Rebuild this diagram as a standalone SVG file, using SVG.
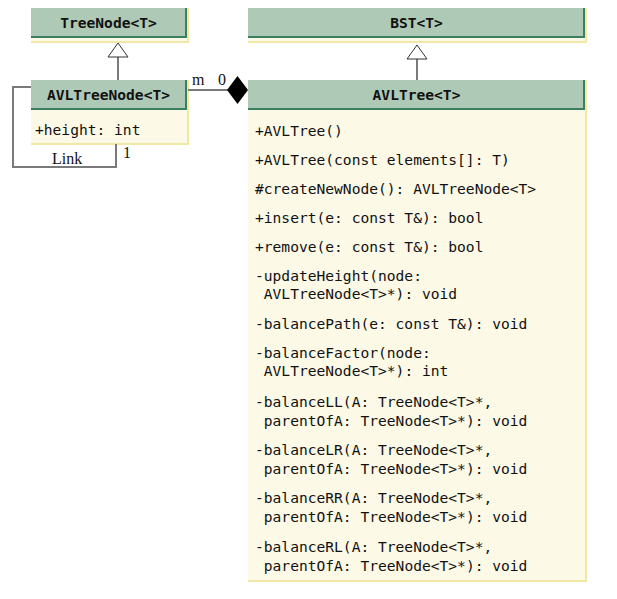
<svg xmlns="http://www.w3.org/2000/svg" width="617" height="599" viewBox="0 0 617 599">
<style>
.body{fill:#fcf9e7}
.hdr{fill:#aecab6}
.dk{stroke:#3a7f60;stroke-width:2;fill:none}
.yl{stroke:#f1e7a6;stroke-width:2;fill:none}
.t{font-family:"DejaVu Sans Mono","Liberation Mono",monospace;font-size:14.6px;fill:#111}
.h{font-weight:bold;text-anchor:middle}
.s{font-family:"Liberation Serif","Times New Roman",serif;font-size:16px;fill:#111}
.ln{stroke:#7a7a7a;stroke-width:2;fill:none}
.tri{fill:#fff;stroke:#333;stroke-width:1}
</style>
<rect width="617" height="599" fill="#fff"/>
<g id="TreeNode">
<rect class="body" x="31" y="8" width="156" height="35"/>
<rect class="hdr" x="31" y="8" width="156" height="30"/>
<path class="dk" d="M186,8V37H31"/>
<path class="yl" d="M188,8V42H31"/>
<text class="t h" x="108.5" y="28">TreeNode&lt;T&gt;</text>
</g>
<g id="AVLTreeNode">
<rect class="body" x="31" y="80" width="156" height="64"/>
<rect class="hdr" x="31" y="80" width="156" height="30"/>
<path class="dk" d="M186,80V109H31"/>
<path class="yl" d="M188,80V144H31"/>
<text class="t h" x="108.5" y="100">AVLTreeNode&lt;T&gt;</text>
<text class="t" x="35" y="135">+height: int</text>
</g>
<g id="BST">
<rect class="body" x="248" y="8" width="337" height="35"/>
<rect class="hdr" x="248" y="8" width="337" height="30"/>
<path class="dk" d="M584,8V37H248"/>
<path class="yl" d="M586,8V42H248"/>
<text class="t h" x="416.5" y="28">BST&lt;T&gt;</text>
</g>
<g id="AVLTree">
<rect class="body" x="248" y="80" width="337" height="502"/>
<rect class="hdr" x="248" y="80" width="337" height="30"/>
<path class="dk" d="M584,80V109H248"/>
<path class="yl" d="M586,80V581H248"/>
<text class="t h" x="416.5" y="100">AVLTree&lt;T&gt;</text>
<text class="t" x="255" y="136">+AVLTree()</text>
<text class="t" x="255" y="165">+AVLTree(const elements[]: T)</text>
<text class="t" x="255" y="194">#createNewNode(): AVLTreeNode&lt;T&gt;</text>
<text class="t" x="255" y="223">+insert(e: const T&amp;): bool</text>
<text class="t" x="255" y="252">+remove(e: const T&amp;): bool</text>
<text class="t" x="255" y="281">-updateHeight(node:</text>
<text class="t" x="263.8" y="299">AVLTreeNode&lt;T&gt;*): void</text>
<text class="t" x="255" y="329">-balancePath(e: const T&amp;): void</text>
<text class="t" x="255" y="358">-balanceFactor(node:</text>
<text class="t" x="263.8" y="376">AVLTreeNode&lt;T&gt;*): int</text>
<text class="t" x="255" y="407">-balanceLL(A: TreeNode&lt;T&gt;*,</text>
<text class="t" x="263.8" y="426">parentOfA: TreeNode&lt;T&gt;*): void</text>
<text class="t" x="255" y="455">-balanceLR(A: TreeNode&lt;T&gt;*,</text>
<text class="t" x="263.8" y="474">parentOfA: TreeNode&lt;T&gt;*): void</text>
<text class="t" x="255" y="503">-balanceRR(A: TreeNode&lt;T&gt;*,</text>
<text class="t" x="263.8" y="522">parentOfA: TreeNode&lt;T&gt;*): void</text>
<text class="t" x="255" y="552">-balanceRL(A: TreeNode&lt;T&gt;*,</text>
<text class="t" x="263.8" y="571">parentOfA: TreeNode&lt;T&gt;*): void</text>
</g>
<g id="connectors">
<path class="ln" d="M118,57V80"/>
<polygon class="tri" points="118,43 128,57 108,57"/>
<path class="ln" d="M417,59V80"/>
<polygon class="tri" points="417,45 427,59 407,59"/>
<path class="ln" d="M31,87H13V167H116V144"/>
<text class="s" x="52" y="164">Link</text>
<text class="s" x="123" y="158">1</text>
<path class="ln" d="M188,90H228"/>
<polygon points="227,90 237.5,76 248,90 237.5,104" fill="#000"/>
<text class="s" x="192" y="85">m</text>
<text class="s" x="218" y="85">0</text>
</g>
</svg>
